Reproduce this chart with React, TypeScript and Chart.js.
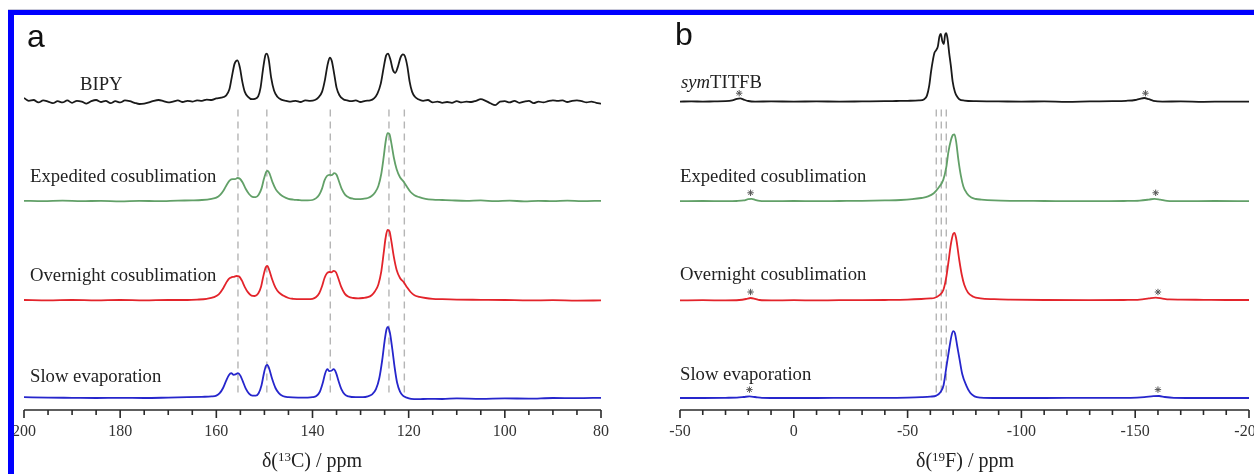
import React, { useEffect, useRef } from "react";
import { Chart, registerables } from "chart.js";
Chart.register(...registerables);

type Pt = [number, number];

// ---------- Panel a: 13C spectra (ppm, intensity above own baseline) ----------
const bipyC: Pt[] = [[200,0.9],[199,0.2],[198,0.4],[197,-0.2],[196,0.3],[195,0],[194,-0.4],[193,0.1],[192,-0.2],[191,0.3],[190,-0.3],[189,0.2],[188,0],[187,-0.5],[186,0.1],[185,0.4],[184,-0.1],[183,0.2],[182,-0.4],[181,0.1],[180,-0.2],[179,0.3],[178,0.1],[177,-0.3],[176,-0.6],[175,-0.5],[174,-0.2],[173,0.2],[172,0.4],[171,0.1],[170,-0.2],[169,0],[168,0.3],[167,-0.1],[166,0.2],[165,0],[164,0.3],[163,0.2],[162,0.5],[161,0.4],[160,0.8],[159,1.0],[158,1.5],[157.3,3],[156.8,6],[156.2,9.5],[155.6,10.3],[155.1,8.5],[154.6,5],[154.1,2.5],[153.4,1.2],[152.6,0.6],[152,0.7],[151.3,1.3],[150.8,3.5],[150.3,8],[149.8,11.6],[149.5,12],[149.1,10.5],[148.6,6],[148,2.8],[147.3,1.2],[146.5,0.5],[145.5,0.2],[144.5,0],[143.5,0.2],[142.5,-0.1],[141.5,0.3],[140.5,0.2],[139.5,0.4],[138.8,1],[138,2.5],[137.4,5.5],[136.9,9],[136.4,11],[136,10.2],[135.5,7],[135,3.5],[134.4,1.6],[133.6,0.6],[132.8,0.3],[132,0.1],[131,0.3],[130,-0.1],[129,0.2],[128,0.3],[127.2,0.8],[126.5,2],[125.8,4.5],[125.2,8.5],[124.7,11.5],[124.3,12],[123.8,10.5],[123.3,8],[122.8,7.2],[122.3,8.5],[121.7,11],[121.2,11.8],[120.8,11.4],[120.3,9],[119.8,5],[119.3,2.5],[118.7,1.2],[118,0.6],[117,0.2],[116,0.4],[115,-0.2],[114,0],[113,-0.3],[112,-0.1],[111,-0.3],[110,0.1],[109,-0.2],[108,0],[107,-0.1],[106,0.2],[105,0.6],[104,0.2],[103,-0.4],[102,-0.9],[101,0],[100,0.1],[99,-0.2],[98,0.2],[97,-0.3],[96,0],[95,0.2],[94,-0.4],[93,0],[92,-0.2],[91,0.1],[90,0.3],[89,0.2],[88,0.3],[87,-0.1],[86,0.2],[85,0.3],[84,0.1],[83,-0.2],[82,0],[81,-0.3],[80,-0.5]];

const expeditedC: Pt[] = [[200,0.1],[196,0],[192,0.15],[188,0],[184,0.1],[180,-0.05],[176,0.1],[172,0],[168,0.15],[165,0.2],[163,0.3],[161,0.6],[160,0.9],[159.2,1.6],[158.5,2.7],[157.8,4.2],[157.2,5.2],[156.6,5.5],[156.1,5.5],[155.6,5.8],[155.1,5.6],[154.5,4.6],[153.9,3.1],[153.2,1.8],[152.5,1.1],[151.8,1.0],[151.2,1.6],[150.6,3.2],[150.1,5.6],[149.6,7.4],[149.3,7.6],[148.9,6.8],[148.3,4.7],[147.6,2.9],[146.8,1.8],[146,1.1],[145,0.6],[144,0.4],[143,0.3],[142,0.2],[141,0.2],[140,0.3],[139.3,0.7],[138.6,1.6],[138,3.2],[137.5,5.2],[137,6.3],[136.5,6.6],[136,6.5],[135.5,7.0],[135,6.6],[134.5,5],[133.9,3],[133.2,1.6],[132.4,0.9],[131.5,0.6],[130.5,0.5],[129.5,0.6],[128.5,0.8],[127.7,1.3],[127,2.2],[126.3,3.8],[125.7,6.8],[125.2,11],[124.8,14.8],[124.4,17],[124.0,16.8],[123.6,14.5],[123.1,11],[122.5,8],[121.8,6],[121,4.8],[120.3,3.5],[119.6,2.3],[118.8,1.5],[117.8,1.0],[116.5,0.6],[115,0.4],[113,0.3],[111,0.2],[108,0.1],[105,0.2],[102,0],[99,0.15],[96,-0.05],[93,0.1],[90,0],[87,0.15],[84,0],[80,0.1]];

const overnightC: Pt[] = [[200,0.1],[195,0],[190,0.1],[185,0],[180,0.1],[175,0],[170,0.1],[166,0.1],[164,0.2],[162,0.4],[160.5,0.8],[159.5,1.5],[158.7,2.8],[158,4.3],[157.4,5.4],[156.8,5.8],[156.3,5.9],[155.8,6.1],[155.3,6.0],[154.7,5.0],[154.1,3.4],[153.4,2.0],[152.7,1.2],[152,1.1],[151.3,1.7],[150.7,3.4],[150.2,6.2],[149.7,8.3],[149.4,8.6],[149,7.6],[148.4,5.3],[147.7,3.2],[147,2.0],[146.1,1.2],[145,0.6],[144,0.4],[142.5,0.3],[141,0.3],[140,0.4],[139.3,0.8],[138.6,1.8],[138,3.6],[137.5,5.6],[137,6.8],[136.5,7.1],[136.1,7.0],[135.6,7.4],[135.1,7.0],[134.6,5.4],[134,3.3],[133.3,1.7],[132.5,0.9],[131.5,0.6],[130.5,0.5],[129.5,0.6],[128.5,0.8],[127.7,1.3],[127,2.3],[126.3,4],[125.7,7.2],[125.2,11.8],[124.8,15.6],[124.4,17.6],[124.0,17.3],[123.6,14.8],[123.1,11],[122.5,7.6],[121.8,5.6],[121,4.5],[120.3,3.2],[119.6,2.1],[118.8,1.3],[117.8,0.9],[116.5,0.6],[115,0.4],[113,0.3],[110,0.2],[105,0.15],[100,0.1],[95,0],[90,0.05],[85,-0.05],[80,0]];

const slowC: Pt[] = [[200,0.2],[195,0.1],[190,0.05],[185,0],[180,0.05],[175,0],[170,0.1],[166,0.2],[163,0.3],[161,0.4],[160,0.6],[159.3,1.2],[158.6,2.5],[158,4.2],[157.4,5.7],[156.9,6.2],[156.4,5.8],[156,5.9],[155.5,6.2],[155,5.6],[154.5,4.2],[153.9,2.4],[153.2,1.1],[152.5,0.6],[151.8,0.6],[151.2,1.2],[150.6,3.2],[150.1,6.2],[149.7,8.0],[149.4,8.3],[149,7.3],[148.4,4.8],[147.7,2.5],[147,1.2],[146.2,0.5],[145,0.2],[143,0.1],[141,0.1],[140,0.2],[139.2,0.5],[138.5,1.5],[137.9,3.6],[137.4,6.0],[136.9,7.2],[136.5,6.7],[136.1,6.8],[135.6,7.2],[135.1,6.3],[134.6,4.3],[134,2.2],[133.3,0.9],[132.5,0.4],[131,0.2],[129.5,0.2],[128.5,0.4],[127.6,0.9],[126.8,2.2],[126.1,5],[125.5,9.5],[125,14.3],[124.6,17.2],[124.3,17.8],[123.9,16.3],[123.4,12.2],[122.9,7.5],[122.4,3.8],[121.8,1.6],[121.2,0.6],[120.4,0.1],[119.5,-0.2],[118,-0.3],[116,-0.2],[113,-0.25],[110,-0.1],[105,-0.2],[100,-0.1],[95,-0.15],[90,0],[85,-0.05],[80,0.05]];

const guideLinesC = [155.5, 149.5, 136.3, 124.1, 120.9];
const majorTicksC = [200, 180, 160, 140, 120, 100, 80];
const majorLabelsC = ["200", "180", "160", "140", "120", "100", "80"];

// ---------- Panel b: 19F spectra ----------
const symTitfbF: Pt[] = [[50,0],[45,0.05],[40,0],[35,0.05],[30,0.1],[27,0.3],[25,0.7],[23.5,0.8],[22,0.5],[20,0.15],[17,0],[10,0.05],[0,0],[-10,0.05],[-20,0],[-30,0.05],[-40,0.1],[-45,0.15],[-50,0.2],[-55,0.3],[-57.3,0.6],[-58.5,1.5],[-59.5,4],[-60.3,7.5],[-61,10],[-61.8,12.2],[-62.5,12.8],[-63.3,13.8],[-64,16.3],[-64.6,16.9],[-65.3,15],[-65.9,14.4],[-66.5,16.8],[-67,17.1],[-67.6,15.5],[-68.3,12],[-69,9],[-69.8,5],[-70.8,2.4],[-71.8,1.2],[-72.7,0.6],[-75,0.25],[-80,0.1],[-90,0.05],[-100,0],[-110,0.05],[-120,-0.05],[-130,0.05],[-140,0.1],[-146,0.2],[-150,0.4],[-152,0.7],[-154,0.9],[-156,0.6],[-158,0.2],[-162,0],[-170,0.05],[-180,-0.05],[-190,0],[-200,0]];

const expeditedF: Pt[] = [[50,0],[40,0.05],[30,0],[25,0.05],[22,0.2],[20,0.5],[18.5,0.6],[17,0.35],[15,0.1],[10,0],[0,0.05],[-10,0],[-20,0.05],[-30,0.1],[-40,0.2],[-47,0.3],[-52,0.5],[-56,0.8],[-59,1.2],[-61.5,2],[-63.5,3.3],[-65.7,5.4],[-67,8.5],[-67.9,12.2],[-69,15.2],[-70,16.6],[-70.6,16.7],[-71.3,15],[-72.3,10.4],[-73.4,6.4],[-74.5,3.7],[-76,2],[-78,0.9],[-80,0.55],[-82.4,0.4],[-88,0.2],[-95,0.1],[-110,0.05],[-130,0],[-145,0.05],[-152,0.15],[-156,0.4],[-158.5,0.6],[-161,0.4],[-164,0.1],[-170,0],[-185,0.05],[-200,0]];

const overnightF: Pt[] = [[50,0],[40,0.05],[30,0],[24,0.1],[21,0.35],[19,0.6],[17,0.4],[15,0.1],[10,0],[0,0.05],[-10,0],[-20,0.05],[-30,0.05],[-40,0.1],[-50,0.2],[-56,0.35],[-60,0.5],[-61.7,0.6],[-64,1.3],[-65.7,2.6],[-66.9,5.5],[-67.9,9.4],[-69,14],[-70,16.6],[-70.6,16.9],[-71.3,15.6],[-72.7,10.1],[-73.8,6.4],[-74.9,3.9],[-76.5,2],[-78.9,0.9],[-82,0.5],[-88,0.3],[-95,0.2],[-110,0.1],[-130,0.05],[-145,0.1],[-152,0.2],[-156,0.5],[-159,0.7],[-162,0.45],[-165,0.25],[-170,0.2],[-180,0.15],[-190,0.1],[-200,0.1]];

const slowF: Pt[] = [[50,0],[40,0],[30,0.05],[25,0.1],[22,0.25],[19.5,0.4],[17,0.25],[14,0.05],[5,0],[-10,0],[-25,0.05],[-40,0.05],[-50,0.1],[-56,0.2],[-60,0.35],[-62.6,0.6],[-64.5,1.5],[-65.8,3.2],[-67,7.6],[-68.2,12],[-69.3,15.6],[-70.1,16.7],[-70.8,16.2],[-71.8,13],[-72.7,10.1],[-74,6],[-75.8,3.1],[-77.5,1.3],[-79.4,0.4],[-82,0.1],[-90,0],[-110,0],[-130,0.05],[-148,0.05],[-154,0.2],[-158,0.45],[-160.5,0.5],[-163,0.25],[-167,0.05],[-180,0],[-200,0]];

const guideLinesF = [-62.6, -64.8, -67.0];
const sidebandStarsF: number[][] = [[24, -154.5], [19, -159], [19, -160], [19.5, -160]];
const majorTicksF = [50, 0, -50, -100, -150, -200];
const majorLabelsF = ["-50", "0", "-50", "-100", "-150", "-200"];

// vertical stacking offsets of the four traces (top to bottom)
const traceOffsets = [77.1, 52.2, 27.4, 3.0];
const traceColors = ["#1a1a1a", "#62a068", "#e3242b", "#2626cc"];
const labelsA = ["BIPY", "Expedited cosublimation", "Overnight cosublimation", "Slow evaporation"];
const labelsB = ["symTITFB", "Expedited cosublimation", "Overnight cosublimation", "Slow evaporation"];

function axisPlugin(majors: number[], majorLabels: string[], minorStep: number) {
  return {
    id: "nmrAxis",
    afterDraw(chart: any) {
      const ctx = chart.ctx as CanvasRenderingContext2D;
      const xs = chart.scales.x;
      const ys = chart.scales.y;
      const y0 = ys.getPixelForValue(0);
      ctx.save();
      ctx.strokeStyle = "#2a2a2a";
      ctx.lineWidth = 1.6;
      ctx.beginPath();
      ctx.moveTo(xs.left, y0);
      ctx.lineTo(xs.right, y0);
      const lo = Math.min(xs.min, xs.max);
      const hi = Math.max(xs.min, xs.max);
      for (let v = lo; v <= hi + 1e-9; v += minorStep) {
        const px = xs.getPixelForValue(v);
        const isMajor = majors.some((m) => Math.abs(m - v) < 1e-6);
        ctx.moveTo(px, y0);
        ctx.lineTo(px, y0 + (isMajor ? 8 : 5));
      }
      ctx.stroke();
      ctx.fillStyle = "#333";
      ctx.font = '16px "Liberation Serif"';
      ctx.textAlign = "center";
      ctx.textBaseline = "middle";
      majors.forEach((m, i) => {
        ctx.fillText(majorLabels[i], xs.getPixelForValue(m), y0 + 22);
      });
      ctx.restore();
    },
  };
}

function buildDatasets(traces: Pt[][], guides: number[], stars: number[][] | null) {
  const ds: any[] = traces.map((t, i) => ({
    data: t.map(([x, y]) => ({ x, y: y + traceOffsets[i] })),
    borderColor: traceColors[i],
    borderWidth: 1.8,
    pointRadius: 0,
    cubicInterpolationMode: "monotone",
    fill: false,
    order: 1,
  }));
  guides.forEach((g) => {
    ds.push({
      data: [{ x: g, y: traceOffsets[0] - 2 }, { x: g, y: traceOffsets[3] + 0.3 }],
      borderColor: "#b5b5b5",
      borderWidth: 1.4,
      borderDash: [7, 5],
      pointRadius: 0,
      order: 5,
    });
  });
  if (stars) {
    const pts: any[] = [];
    stars.forEach((pair, i) => pair.forEach((x) => pts.push({ x, y: traceOffsets[i] + 2.1 })));
    ds.push({
      data: pts,
      showLine: false,
      pointStyle: "star",
      pointRadius: 3.2,
      borderWidth: 1,
      borderColor: "#555",
      backgroundColor: "#555",
      order: 0,
    });
  }
  return ds;
}

function Panel(props: {
  traces: Pt[][]; guides: number[]; stars: number[][] | null;
  xmin: number; xmax: number; majors: number[]; majorLabels: string[]; minorStep: number;
  width: number; padLeft: number; padRight: number;
}) {
  const ref = useRef<HTMLCanvasElement>(null);
  useEffect(() => {
    if (!ref.current) return;
    const chart = new Chart(ref.current, {
      type: "line",
      data: { datasets: buildDatasets(props.traces, props.guides, props.stars) },
      options: {
        animation: false,
        responsive: false,
        maintainAspectRatio: false,
        layout: { padding: { left: props.padLeft, right: props.padRight, top: 10, bottom: 64 } },
        plugins: { legend: { display: false }, tooltip: { enabled: false } },
        events: [],
        scales: {
          x: { type: "linear", min: props.xmin, max: props.xmax, reverse: true, display: false },
          y: { type: "linear", min: 0, max: 100, display: false },
        },
      },
      plugins: [axisPlugin(props.majors, props.majorLabels, props.minorStep)],
    } as any);
    return () => chart.destroy();
  }, []);
  return <canvas ref={ref} width={props.width} height={474} style={{ display: "block" }} />;
}

const serif = '"Liberation Serif", "Times New Roman", serif';
const sans = '"Liberation Sans", Arial, sans-serif';

function Label(p: { x: number; baseline: number; children: any; size?: number; center?: boolean }) {
  const size = p.size ?? 18.7;
  return (
    <div
      style={{
        position: "absolute",
        left: p.x,
        top: p.baseline - Math.round(size * 0.84),
        fontFamily: serif,
        fontSize: size,
        lineHeight: `${size}px`,
        color: "#222",
        whiteSpace: "nowrap",
        transform: p.center ? "translateX(-50%)" : undefined,
      }}
    >
      {p.children}
    </div>
  );
}

export default function App() {
  const baselinesA = [91, 183, 282, 383];
  const baselinesB = [89, 183, 281, 381];
  return (
    <div style={{ position: "absolute", left: 0, top: 0, width: 1254, height: 474, overflow: "hidden", background: "#fff" }}>
      <div style={{ position: "absolute", left: 0, top: 0 }}>
        <Panel traces={[bipyC, expeditedC, overnightC, slowC]} guides={guideLinesC} stars={null}
          xmin={80} xmax={200} majors={majorTicksC} majorLabels={majorLabelsC} minorStep={5}
          width={640} padLeft={24} padRight={39} />
      </div>
      <div style={{ position: "absolute", left: 640, top: 0 }}>
        <Panel traces={[symTitfbF, expeditedF, overnightF, slowF]} guides={guideLinesF} stars={sidebandStarsF}
          xmin={-200} xmax={50} majors={majorTicksF} majorLabels={majorLabelsF} minorStep={10}
          width={614} padLeft={40} padRight={4} />
      </div>

      {/* frame */}
      <div style={{ position: "absolute", left: 8, top: 9, width: 1246, height: 1, background: "#c8c8d8" }} />
      <div style={{ position: "absolute", left: 8, top: 10, width: 1246, height: 5, background: "#0000ff" }} />
      <div style={{ position: "absolute", left: 8, top: 10, width: 6, height: 464, background: "#0000ff" }} />

      {/* panel letters */}
      <div style={{ position: "absolute", left: 27, top: 18, fontFamily: sans, fontSize: 32, lineHeight: "36px", color: "#111" }}>a</div>
      <div style={{ position: "absolute", left: 675, top: 16, fontFamily: sans, fontSize: 32, lineHeight: "36px", color: "#111" }}>b</div>

      {/* trace labels panel a */}
      <Label x={80} baseline={baselinesA[0]}>{labelsA[0]}</Label>
      <Label x={30} baseline={baselinesA[1]}>{labelsA[1]}</Label>
      <Label x={30} baseline={baselinesA[2]}>{labelsA[2]}</Label>
      <Label x={30} baseline={baselinesA[3]}>{labelsA[3]}</Label>

      {/* trace labels panel b */}
      <Label x={681} baseline={baselinesB[0]}><i>sym</i>TITFB</Label>
      <Label x={680} baseline={baselinesB[1]}>{labelsB[1]}</Label>
      <Label x={680} baseline={baselinesB[2]}>{labelsB[2]}</Label>
      <Label x={680} baseline={baselinesB[3]}>{labelsB[3]}</Label>

      {/* axis titles */}
      <Label x={312} baseline={467} size={20} center>δ(<sup style={{ fontSize: 13, verticalAlign: "6px", lineHeight: 0 }}>13</sup>C) / ppm</Label>
      <Label x={965} baseline={467} size={20} center>δ(<sup style={{ fontSize: 13, verticalAlign: "6px", lineHeight: 0 }}>19</sup>F) / ppm</Label>
    </div>
  );
}
